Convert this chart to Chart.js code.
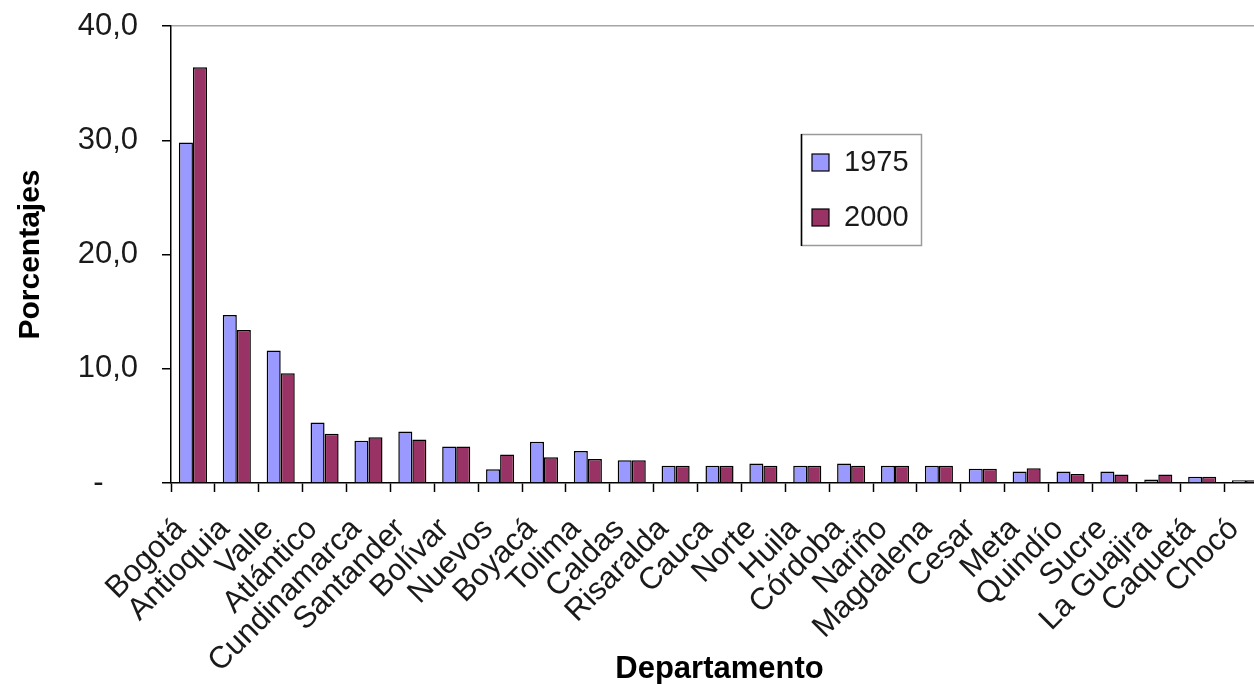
<!DOCTYPE html>
<html>
<head>
<meta charset="utf-8">
<title>Departamentos 1975 - 2000</title>
<script src="https://cdn.jsdelivr.net/npm/chart.js@4"></script>
<style>
    html, body { margin: 0; padding: 0; background: #fff; overflow: hidden; }
    /* the original picture is cropped on the right, so the chart runs past the window */
    #wrap { position: relative; width: 1268px; height: 684px; }
</style>
</head>
<body>
<div id="wrap"><canvas id="chart"></canvas></div>
<script>
// Data
const departamentos = [
    'Bogotá', 'Antioquia', 'Valle', 'Atlántico', 'Cundinamarca', 'Santander',
    'Bolívar', 'Nuevos', 'Boyacá', 'Tolima', 'Caldas', 'Risaralda', 'Cauca',
    'Norte', 'Huila', 'Córdoba', 'Nariño', 'Magdalena', 'Cesar', 'Meta',
    'Quindío', 'Sucre', 'La Guajira', 'Caquetá', 'Chocó'
];
const valores1975 = [29.8, 14.7, 11.6, 5.3, 3.7, 4.5, 3.2, 1.2, 3.6, 2.8, 2.0, 1.5, 1.5,
                     1.7, 1.5, 1.7, 1.5, 1.5, 1.25, 1.0, 1.0, 1.0, 0.3, 0.55, 0.25];
const valores2000 = [36.4, 13.4, 9.6, 4.3, 4.0, 3.8, 3.2, 2.5, 2.25, 2.1, 2.0, 1.5, 1.5,
                     1.5, 1.5, 1.5, 1.5, 1.5, 1.25, 1.3, 0.78, 0.75, 0.75, 0.55, 0.25];
const yTicks = [0, 10, 20, 30, 40];

const FONT = '"Liberation Sans", Arial, sans-serif';
const TEXT = '#1a1a1a';

// Legend drawn as a boxed block inside the plot, like the Excel original
const boxLegend = {
    id: 'boxLegend',
    afterDraw(chart) {
        const ctx = chart.ctx;
        const rowY = [162, 217];
        ctx.save();
        ctx.fillStyle = '#fff';
        ctx.fillRect(801, 134, 121, 112);
        ctx.lineWidth = 1.5;
        ctx.strokeStyle = '#9a9a9a';
        ctx.strokeRect(801.5, 134.5, 120, 111);
        ctx.strokeStyle = '#000';
        ctx.beginPath();
        ctx.moveTo(801.5, 134);
        ctx.lineTo(801.5, 246);
        ctx.stroke();

        ctx.font = '29px ' + FONT;
        ctx.textBaseline = 'middle';
        chart.data.datasets.forEach((ds, i) => {
            const y = rowY[i];
            ctx.fillStyle = ds.backgroundColor;
            ctx.fillRect(812, y - 8, 17, 17);
            ctx.strokeStyle = '#000';
            ctx.lineWidth = 1.2;
            ctx.strokeRect(812, y - 8, 17, 17);
            ctx.fillStyle = TEXT;
            ctx.fillText(ds.label, 844, y + 1);
        });
        ctx.restore();
    }
};

const ctx = document.getElementById('chart').getContext('2d');
new Chart(ctx, {
    type: 'bar',
    data: {
        labels: departamentos,
        datasets: [
            {
                label: '1975',
                data: valores1975,
                backgroundColor: '#9999FF',
                borderColor: '#000',
                borderWidth: 1.5
            },
            {
                label: '2000',
                data: valores2000,
                backgroundColor: '#993366',
                borderColor: '#000',
                borderWidth: 1.5
            }
        ]
    },
    options: {
        responsive: true,
        maintainAspectRatio: false,
        animation: false,
        layout: { padding: { top: 26, left: 0, right: 0, bottom: 0 } },
        datasets: {
            bar: { categoryPercentage: 0.64, barPercentage: 1.0 }
        },
        plugins: {
            legend: { display: false },
            tooltip: { enabled: false }
        },
        scales: {
            x: {
                grid: {
                    offset: true,
                    drawOnChartArea: false,
                    tickLength: 9,
                    tickColor: '#000',
                    tickWidth: 1.5
                },
                border: { color: '#000', width: 1.5 },
                ticks: {
                    autoSkip: false,
                    maxRotation: 45,
                    minRotation: 45,
                    padding: 19,
                    labelOffset: -12,
                    color: TEXT,
                    font: { family: FONT, size: 31 }
                },
                title: {
                    display: true,
                    text: 'Departamento',
                    color: '#000',
                    font: { family: FONT, size: 31, weight: 'bold', lineHeight: 0.95 },
                    padding: { top: 0, bottom: 0 }
                },
                afterFit(scale) {
                    scale.height = 201;
                    scale.paddingLeft = 0;
                    scale.paddingRight = 0;
                }
            },
            y: {
                min: 0,
                max: 40,
                afterBuildTicks(scale) {
                    scale.ticks = yTicks.map(v => ({ value: v }));
                },
                grid: {
                    // only the top frame line (at 40) shows across the plot
                    color: c => (c.tick && c.tick.value === 40) ? '#a6a6a6' : 'rgba(0,0,0,0)',
                    lineWidth: 1.5,
                    tickColor: '#000',
                    tickWidth: 1.5,
                    tickLength: 9
                },
                border: { color: '#000', width: 1.5 },
                ticks: {
                    padding: 24,
                    color: TEXT,
                    font: { family: FONT, size: 31 },
                    callback: v => v === 0 ? '-    ' : v.toFixed(1).replace('.', ',')
                },
                title: {
                    display: true,
                    text: 'Porcentajes',
                    color: '#000',
                    font: { family: FONT, size: 30, weight: 'bold' },
                    padding: { top: 13, bottom: 0 }
                },
                afterFit(scale) {
                    scale.width = 171;
                    scale.paddingTop = 0;
                    scale.paddingBottom = 0;
                }
            }
        }
    },
    plugins: [boxLegend]
});
</script>
</body>
</html>
